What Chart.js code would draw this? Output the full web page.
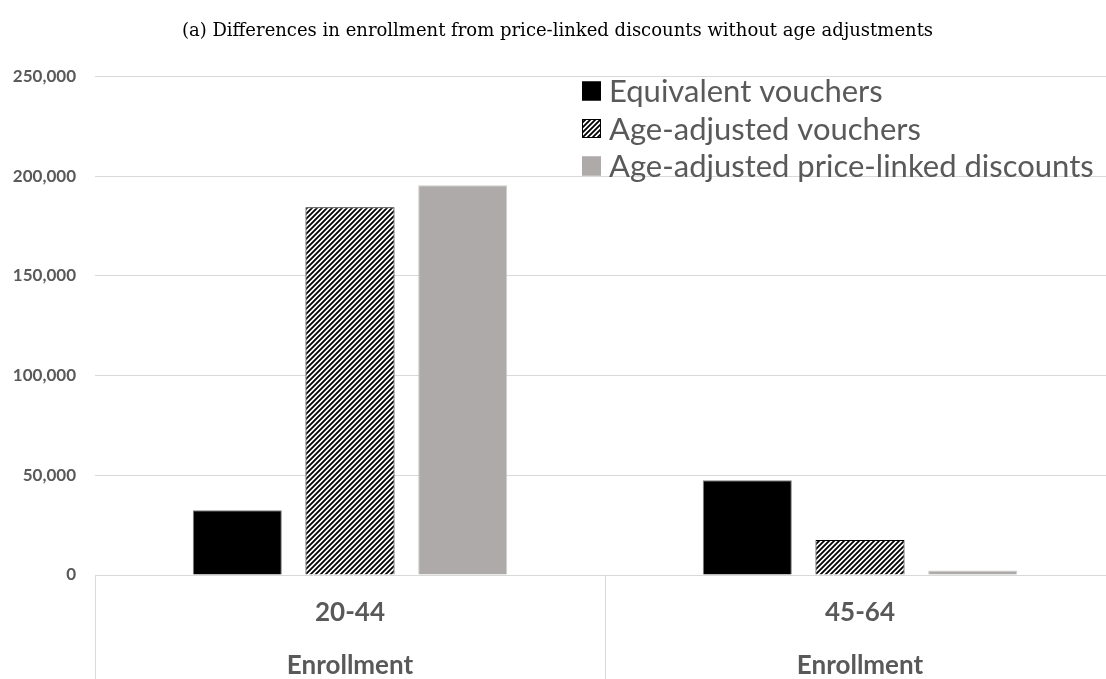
<!DOCTYPE html>
<html>
<head>
<meta charset="utf-8">
<script src="https://cdn.jsdelivr.net/npm/chart.js@4"></script>
<style>
  html, body { margin: 0; padding: 0; background: #fff; overflow: hidden; }
  #wrap { width: 1106px; height: 679px; overflow: hidden; }
</style>
</head>
<body>
<div id="wrap"><canvas id="chart" width="1120" height="679"></canvas></div>
<script>
// data
const categories = ["20-44", "45-64"];
const subLabel = "Enrollment";
const equivalentVouchers = [32500, 47500];
const ageAdjustedVouchers = [184500, 17500];
const ageAdjustedDiscounts = [195500, 2300];
const seriesNames = ["Equivalent vouchers", "Age-adjusted vouchers", "Age-adjusted price-linked discounts"];
const yTicks = [0, 50000, 100000, 150000, 200000, 250000];

const labelGray = "#595959";
const gridGray = "#d9d9d9";

// diagonal hatch for the middle series
function makeHatch() {
    const size = 5;
    const c = document.createElement("canvas");
    c.width = size;
    c.height = size;
    const g = c.getContext("2d");
    g.fillStyle = "#fff";
    g.fillRect(0, 0, size, size);
    g.strokeStyle = "#000";
    g.lineWidth = 1.8;
    g.beginPath();
    g.moveTo(-1, size + 1); g.lineTo(size + 1, -1);
    g.moveTo(-1, 1); g.lineTo(1, -1);
    g.moveTo(size - 1, size + 1); g.lineTo(size + 1, size - 1);
    g.stroke();
    return g.createPattern(c, "repeat");
}

const ctx = document.getElementById("chart").getContext("2d");
const hatch = makeHatch();

// legend sits on top of the plot, like the Excel one
const overlayLegend = {
    id: "overlayLegend",
    afterDraw(chart) {
        const c = chart.ctx;
        const x = 582, y0 = 91, step = 37.5, box = 19;
        c.save();
        c.font = "31px Lato";
        c.textBaseline = "middle";
        chart.data.datasets.forEach((ds, i) => {
            const y = y0 + i * step;
            c.fillStyle = ds.backgroundColor;
            c.fillRect(x, y - box / 2, box, box);
            c.lineWidth = 1;
            c.strokeStyle = ds.legendBorder;
            c.strokeRect(x + 0.5, y - box / 2 + 0.5, box - 1, box - 1);
            c.fillStyle = labelGray;
            c.fillText(ds.label, x + 27, y + 1);
        });
        c.restore();
    }
};

new Chart(ctx, {
    type: "bar",
    data: {
        labels: categories.map(c => [c, "", subLabel]),
        datasets: [
            {
                label: seriesNames[0],
                data: equivalentVouchers,
                backgroundColor: "#000000",
                borderColor: "#7f7f7f",
                legendBorder: "#000000",
                borderWidth: 1
            },
            {
                label: seriesNames[1],
                data: ageAdjustedVouchers,
                backgroundColor: hatch,
                borderColor: "#000000",
                legendBorder: "#000000",
                borderWidth: 1
            },
            {
                label: seriesNames[2],
                data: ageAdjustedDiscounts,
                backgroundColor: "#aeaaaa",
                borderColor: "#cfcdcd",
                legendBorder: "#aeaaaa",
                borderWidth: 1
            }
        ]
    },
    options: {
        responsive: false,
        animation: false,
        categoryPercentage: 0.663,
        barPercentage: 0.79,
        layout: { padding: { left: 0, right: 5, top: 0, bottom: 0 } },
        plugins: {
            legend: { display: false },
            tooltip: { enabled: false },
            title: {
                display: true,
                text: "(a) Differences in enrollment from price-linked discounts without age adjustments",
                color: "#000",
                font: { family: "DejaVu Serif", size: 18, weight: "normal" },
                padding: { top: 21, bottom: 34 }
            }
        },
        scales: {
            x: {
                grid: {
                    offset: true,
                    drawOnChartArea: false,
                    drawTicks: true,
                    tickLength: 104,
                    color: gridGray
                },
                border: { display: true, color: gridGray },
                ticks: {
                    color: labelGray,
                    font: { family: "Lato", size: 26, weight: "bold", lineHeight: 1.02 },
                    padding: -80,
                    maxRotation: 0
                },
                afterFit(s) { s.height = 104; }
            },
            y: {
                min: 0,
                max: 250000,
                afterBuildTicks(s) { s.ticks = yTicks.map(v => ({ value: v })); },
                grid: { color: gridGray, drawTicks: false },
                border: { display: false },
                ticks: {
                    color: labelGray,
                    padding: 19,
                    font: { family: "Lato", size: 17, weight: "bold" },
                    callback: v => v.toLocaleString("en-US")
                },
                afterFit(s) { s.width = 95; }
            }
        }
    },
    plugins: [overlayLegend]
});
</script>
</body>
</html>
